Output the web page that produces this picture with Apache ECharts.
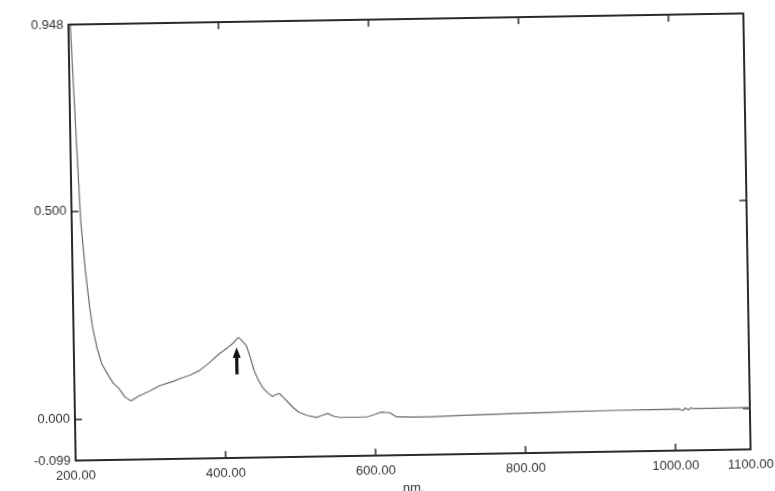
<!DOCTYPE html>
<html><head><meta charset="utf-8">
<script src="https://cdn.jsdelivr.net/npm/echarts@6/dist/echarts.min.js"></script>
<style>
html,body{margin:0;padding:0;background:#fff;overflow:hidden;width:775px;height:491px}
#c{width:775px;height:491px;transform:rotate(-0.95deg);transform-origin:409.5px 237px;background:#fff}
</style>
</head><body><div id="c"></div>
<script>
const wavelengths = [202.5,204,208,212,217,222,226,231,237,246,252,259,267,275,285,300,313,333,340,355,367,380,394,405,412,417,420,424,430,435,440,445,451,458,464,468,473,479,486,492,499,510,522,530,537,545,553,570,589,600,609,620,629,650,673,740,834,920,1005,1011,1014,1018,1021,1025,1100];
const absorbance  = [0.946,0.870,0.670,0.477,0.360,0.270,0.215,0.170,0.132,0.1025,0.085,0.073,0.052,0.042,0.053,0.065,0.077,0.088,0.093,0.102,0.112,0.130,0.152,0.166,0.176,0.186,0.190,0.183,0.170,0.142,0.110,0.088,0.069,0.055,0.047,0.051,0.054,0.043,0.0295,0.018,0.008,0.000,-0.005,0.000,0.004,-0.003,-0.006,-0.006,-0.006,0.000,0.005,0.003,-0.007,-0.008,-0.008,-0.005,-0.002,0.000,0.001,-0.003,0.003,-0.002,0.003,0.001,0.0014];
const xTickLabels = [200,400,600,800,1000,1100];
const xTickMarks = [400,600,800,1000];
const yTickLabels = [-0.099,0,0.5,0.948];
const yTickMarks = [0,0.5];
const peakArrow = [417, 0.134];

const chart = echarts.init(document.getElementById('c'), null, {renderer:'canvas'});
const frame = {show:true, onZero:false, lineStyle:{color:'#2a2a2a', width:2}};
const lbl = {color:'#333', fontFamily:'Liberation Sans, Arial, sans-serif', fontSize:13};
const tick = (vals)=>({show:true, inside:true, length:7, customValues:vals, lineStyle:{color:'#2a2a2a', width:1.5}});
chart.setOption({
  backgroundColor:'#fff',
  animation:false,
  grid:{left:72, right:28, top:19, bottom:36, containLabel:false, outerBoundsMode:'none'},
  xAxis:[{
    type:'value', min:200, max:1100, position:'bottom',
    axisLine:frame, splitLine:{show:false},
    axisTick:tick(xTickMarks),
    axisLabel:Object.assign({customValues:xTickLabels, margin:9, formatter:v=>v.toFixed(2)}, lbl),
    name:'nm.', nameLocation:'middle', nameGap:21, nameTextStyle:lbl
  },{
    type:'value', min:200, max:1100, position:'top',
    axisLine:frame, splitLine:{show:false},
    axisTick:tick(xTickMarks),
    axisLabel:{show:false}
  }],
  yAxis:[{
    type:'value', min:-0.099, max:0.948, position:'left',
    axisLine:frame, splitLine:{show:false},
    axisTick:tick(yTickMarks),
    axisLabel:Object.assign({customValues:yTickLabels, margin:5, formatter:v=>v.toFixed(3)}, lbl)
  },{
    type:'value', min:-0.099, max:0.948, position:'right',
    axisLine:frame, splitLine:{show:false},
    axisTick:tick(yTickMarks),
    axisLabel:{show:false}
  }],
  series:[{
    type:'line', xAxisIndex:0, yAxisIndex:0,
    data:wavelengths.map((w,i)=>[w,absorbance[i]]),
    showSymbol:false, smooth:false,
    lineStyle:{color:'#6a6a6a', width:1.2},
    markPoint:{
      symbol:'path://M5,0 L10,11 L7,11 L7,28 L3,28 L3,11 L0,11 Z',
      symbolSize:[8,27],
      itemStyle:{color:'#111'},
      label:{show:false},
      data:[{coord:peakArrow}]
    }
  }]
});
</script>
</body></html>
